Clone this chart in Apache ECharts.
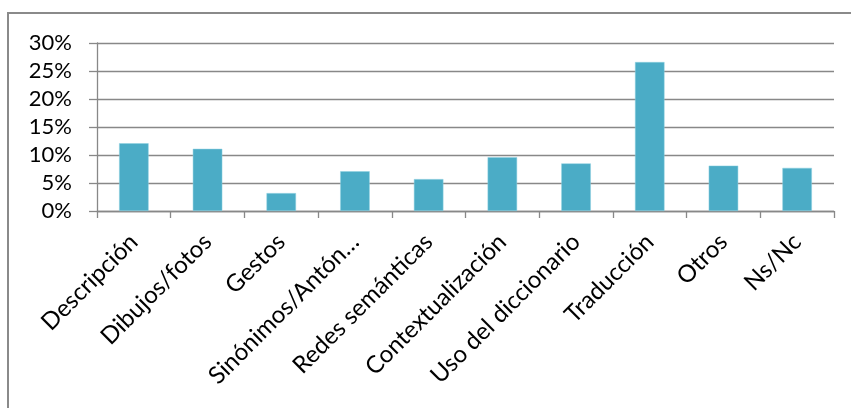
<!DOCTYPE html>
<html><head><meta charset="utf-8">
<script src="https://cdn.jsdelivr.net/npm/echarts@6/dist/echarts.min.js"></script>
<style>html,body{margin:0;padding:0;background:#fff}#c{width:851px;height:408px}</style>
</head><body><div id="c"></div>
<script>
const categories = ["Descripción","Dibujos/fotos","Gestos","Sinónimos/Antón…","Redes semánticas","Contextualización","Uso del diccionario","Traducción","Otros","Ns/Nc"];
const values = [12.1, 11.1, 3.2, 7.1, 5.7, 9.6, 8.5, 26.6, 8.1, 7.7];
const yTicks = [0, 5, 10, 15, 20, 25, 30];

const chart = echarts.init(document.getElementById('c'), null, {renderer:'canvas'});
const font = 'Lato, "Open Sans", sans-serif';
chart.setOption({
  animation:false,
  graphic:[{type:'rect', shape:{x:8,y:13,width:900,height:450}, style:{fill:'none', stroke:'#8a8a8a', lineWidth:2}, silent:true}],
  grid:{left:97, right:17, top:43, bottom:197, containLabel:false},
  xAxis:{type:'category', data:categories,
    axisLine:{lineStyle:{color:'#888', width:1.3}},
    axisTick:{show:true, length:7, alignWithLabel:false, lineStyle:{color:'#888', width:1.3}},
    axisLabel:{rotate:45, interval:0, margin:27, color:'#000', fontSize:24, fontFamily:font}
  },
  yAxis:{type:'value', min:0, max:30, interval:5,
    axisLine:{show:true, lineStyle:{color:'#888', width:1.3}},
    axisTick:{show:true, length:8, lineStyle:{color:'#888', width:1.3}},
    splitLine:{lineStyle:{color:'#888', width:1.3}},
    axisLabel:{formatter: v => yTicks.includes(v) ? v + '%' : '', margin:25, color:'#000', fontSize:22, fontFamily:font}
  },
  series:[{type:'bar', data:values, barWidth:'40%', itemStyle:{color:'#4BACC6', borderColor:'#8fd0e0', borderWidth:0.5}}]
});
</script></body></html>
